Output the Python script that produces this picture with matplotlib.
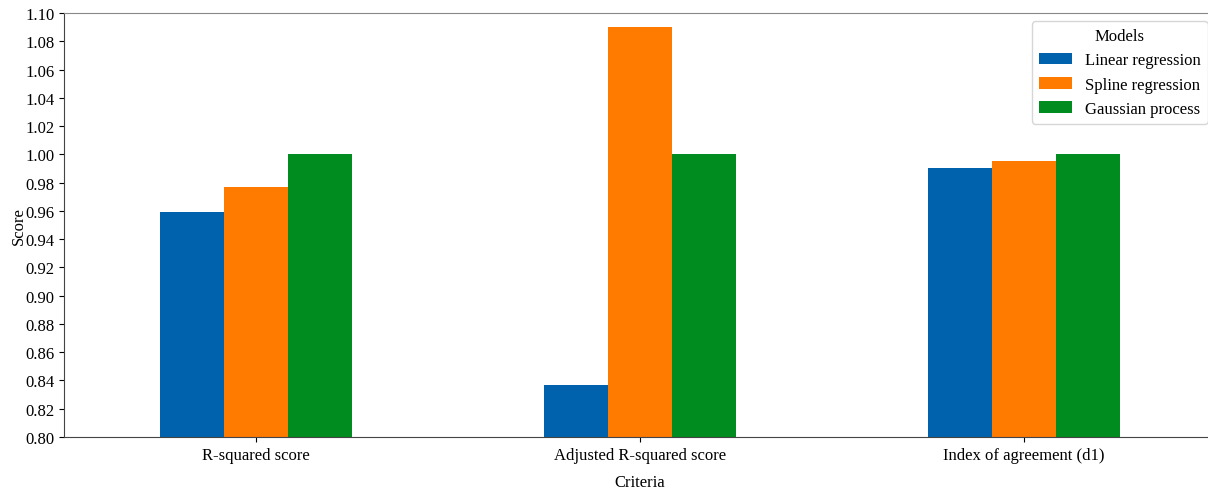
import numpy as np
import matplotlib.pyplot as plt

plt.rcParams['font.family'] = ['Liberation Serif', 'DejaVu Serif']

criteria = ['R-squared score', 'Adjusted R-squared score', 'Index of agreement (d1)']
models = ['Linear regression', 'Spline regression', 'Gaussian process']
linear = [0.959, 0.837, 0.990]
spline = [0.977, 1.090, 0.995]
gauss = [1.000, 1.000, 1.000]
colors = ['#0062ad', '#ff7b00', '#008c1e']

fig = plt.figure(figsize=(12.08, 4.89), dpi=100)
# axes run a little past the right edge of the figure
ax = fig.add_axes([64/1208, 51/489, 1152/1208, 424/489])

x = np.arange(len(criteria))
w = 0.5/3
for i, (vals, name) in enumerate(zip([linear, spline, gauss], models)):
    ax.bar(x + (i-1)*w, np.array(vals) - 0.8, w, bottom=0.8, color=colors[i], label=name)

ax.set_xlim(-0.5, 2.5)
ax.set_ylim(0.80, 1.10)
ticks = np.arange(0.80, 1.101, 0.02)
ax.set_yticks(ticks)
ax.set_yticklabels(['%.2f' % v for v in ticks])
ax.set_xticks(x)
ax.set_xticklabels(criteria)
ax.tick_params(labelsize=12)
ax.set_xlabel('Criteria', fontsize=12, labelpad=8)
ax.set_ylabel('Score', fontsize=12, labelpad=-1)
ax.spines['left'].set_color('#444444')
ax.spines['bottom'].set_color('#444444')
ax.spines['top'].set_color('#888888')

ax.legend(title='Models', loc='upper right', fontsize=12, title_fontsize=12)

fig.savefig('out.png', dpi=100)
